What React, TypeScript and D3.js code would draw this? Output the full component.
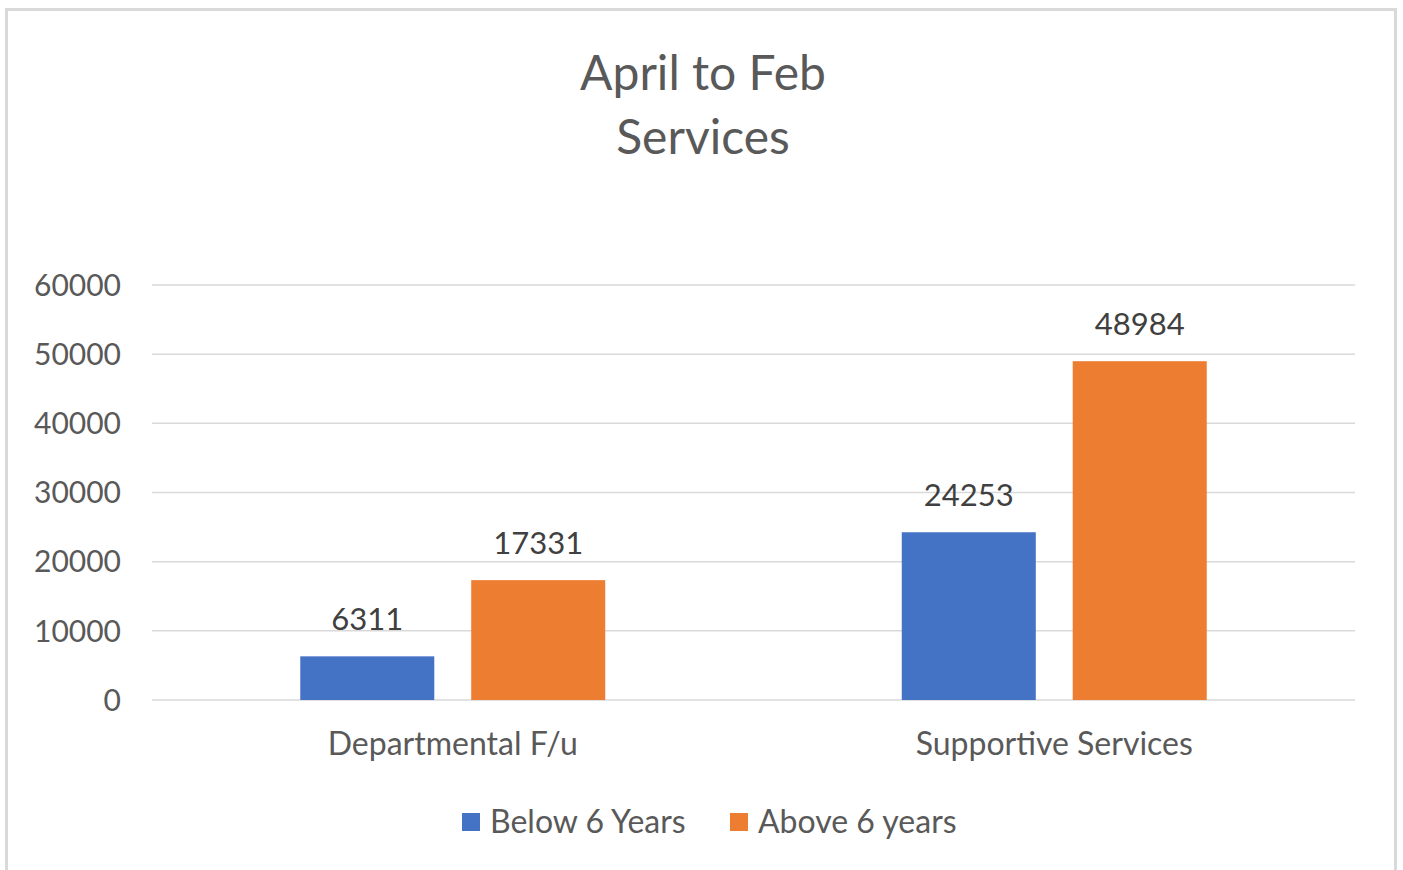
import React, { useEffect, useRef } from "react";
import * as d3 from "d3";

const categories = ["Departmental F/u", "Supportive Services"];
const seriesNames = ["Below 6 Years", "Above 6 years"];
const below6 = [6311, 24253];
const above6 = [17331, 48984];
const yTicks = [0, 10000, 20000, 30000, 40000, 50000, 60000];
const titleLines = ["April to Feb", "Services"];
const colors = ["#4472C4", "#ED7D31"];

const W = 1403;
const H = 870;
const FONT = "Lato, 'Open Sans', sans-serif";
const TEXT = "#595959";

export default function App() {
  const ref = useRef<SVGSVGElement | null>(null);
  useEffect(() => {
    const svg = d3.select(ref.current);
    svg.selectAll("*").remove();

    svg.append("rect").attr("x", 0).attr("y", 0).attr("width", W).attr("height", H).attr("fill", "#fff");
    svg.append("rect")
      .attr("x", 6.5).attr("y", 9.5).attr("width", 1389).attr("height", 880)
      .attr("fill", "#fff").attr("stroke", "#d9d9d9").attr("stroke-width", 3);

    const title = svg.append("text").attr("text-anchor", "middle").attr("fill", TEXT)
      .attr("font-family", FONT).attr("font-size", 48);
    titleLines.forEach((t, i) => {
      title.append("tspan").attr("x", 703).attr("y", 90 + i * 64).text(t);
    });

    const x0 = d3.scaleBand<string>().domain(categories).range([152, 1355]).paddingInner(0.493).paddingOuter(0.2465);
    const x1 = d3.scaleBand<string>().domain(seriesNames).range([0, x0.bandwidth()]).paddingInner(0.216);
    const y = d3.scaleLinear().domain([0, 60000]).range([700, 285]);

    const g = svg.append("g");
    g.selectAll("line.grid").data(yTicks).enter().append("line")
      .attr("x1", 152).attr("x2", 1355)
      .attr("y1", (d) => y(d)).attr("y2", (d) => y(d))
      .attr("stroke", "#d9d9d9").attr("stroke-width", 1.5);

    g.selectAll("text.ytick").data(yTicks).enter().append("text")
      .attr("x", 121).attr("y", (d) => y(d)).attr("dy", "0.36em")
      .attr("text-anchor", "end").attr("fill", TEXT).attr("font-family", FONT).attr("font-size", 30)
      .text((d) => String(d));

    const seriesData = [below6, above6];
    categories.forEach((c, ci) => {
      seriesNames.forEach((s, si) => {
        const v = seriesData[si][ci];
        const bx = (x0(c) as number) + (x1(s) as number);
        g.append("rect").attr("x", bx).attr("y", y(v)).attr("width", x1.bandwidth())
          .attr("height", y(0) - y(v)).attr("fill", colors[si]);
        g.append("text").attr("x", bx + x1.bandwidth() / 2).attr("y", y(v) - 26)
          .attr("text-anchor", "middle").attr("fill", "#404040").attr("font-family", FONT).attr("font-size", 31)
          .text(String(v));
      });
      g.append("text").attr("x", (x0(c) as number) + x0.bandwidth() / 2).attr("y", 755)
        .attr("text-anchor", "middle").attr("fill", TEXT).attr("font-family", FONT).attr("font-size", 32)
        .text(c);
    });

    const legendX = [462, 730];
    seriesNames.forEach((s, i) => {
      svg.append("rect").attr("x", legendX[i]).attr("y", 813).attr("width", 18).attr("height", 18).attr("fill", colors[i]);
      svg.append("text").attr("x", legendX[i] + 28).attr("y", 833).attr("fill", TEXT)
        .attr("font-family", FONT).attr("font-size", 32).text(s);
    });
  }, []);
  return <svg ref={ref} width={W} height={H} style={{ display: "block", position: "absolute", left: 0, top: 0 }} />;
}
